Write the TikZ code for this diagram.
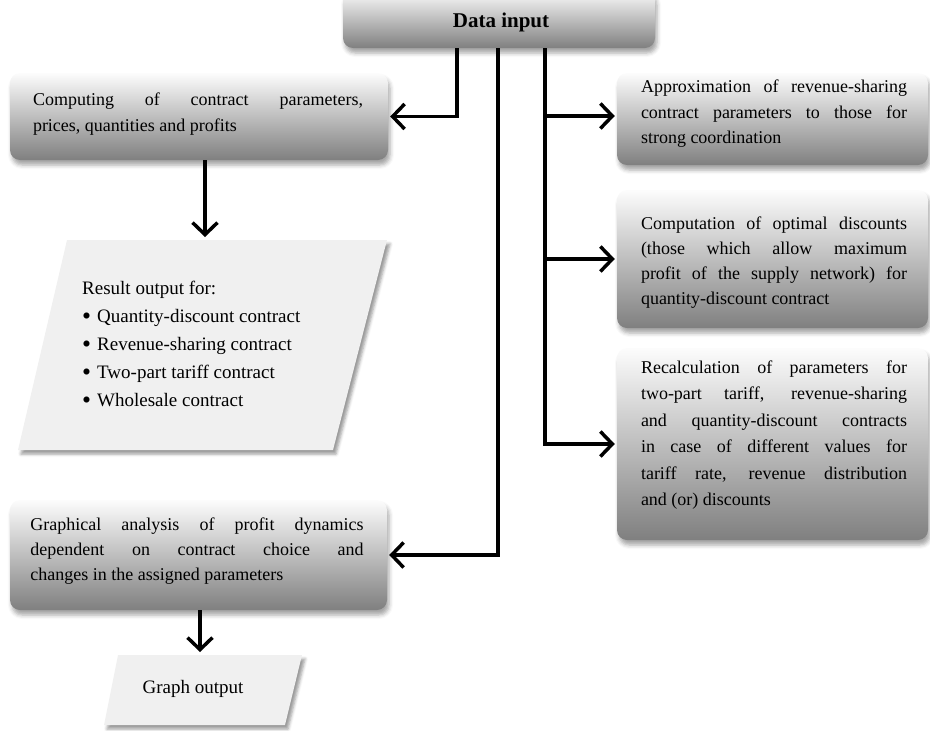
\documentclass[tikz,border=0pt]{standalone}
\usepackage{fontspec}
\setmainfont{Liberation Serif}
\usetikzlibrary{arrows.meta,shadows.blur,calc}
\newcommand{\bul}{\raisebox{-2pt}{\scalebox{1.35}{\textbullet}}\hspace{6pt}}
\begin{document}
\begin{tikzpicture}[x=1pt,y=-1pt,
  box/.style={rectangle, rounded corners=10pt, top color=black!1, middle color=black!15, bottom color=black!50,
    blur shadow={shadow xshift=2pt,shadow yshift=-5pt,shadow blur radius=4pt,shadow opacity=35},
    inner sep=0pt},
  txt/.style={inner sep=0pt, align=justify},
  para/.style={fill=black!6, blur shadow={shadow xshift=3pt,shadow yshift=-4pt,shadow blur radius=3pt,shadow opacity=40}},
  ptext/.style={inner sep=0pt, font=\fontsize{19}{28}\selectfont, align=left},
  arr/.style={line width=3.5pt, shorten >=2pt, -{Straight Barb[length=12pt,width=25pt]}},
]
\useasboundingbox (0,0) rectangle (930,731);

% boxes
\node[box, minimum width=312pt, minimum height=58pt] (data) at (499,19) {};
\node[txt, font=\bfseries\fontsize{21}{25}\selectfont, align=center] (tdata) at (501,22) {Data input};

\node[box, minimum width=378pt, minimum height=87pt] (box1) at (199,116.5) {};
\node[txt, text width=330pt, font=\fontsize{18}{26}\selectfont] (t1) at (198,114)
  {Computing of contract parameters,\linebreak prices, quantities and profits};

\node[box, minimum width=377pt, minimum height=110pt] (box4) at (198.5,555) {};
\node[txt, text width=333pt, font=\fontsize{18}{25}\selectfont] (t4) at (197,551)
  {Graphical analysis of profit dynamics\linebreak dependent on contract choice and\linebreak changes in the assigned parameters};

\node[box, minimum width=311pt, minimum height=92pt] (r1) at (772.5,119) {};
\node[txt, text width=266pt, font=\fontsize{18}{25.5}\selectfont] (tr1) at (774,114)
  {Approximation of revenue-sharing\linebreak contract parameters to those for\linebreak strong coordination};

\node[box, minimum width=311pt, minimum height=138pt] (r2) at (772.5,259) {};
\node[txt, text width=266pt, font=\fontsize{18}{25}\selectfont] (tr2) at (774,263)
  {Computation of optimal discounts\linebreak (those which allow maximum\linebreak profit of the supply network) for\linebreak quantity-discount contract};

\node[box, minimum width=311pt, minimum height=192pt] (r3) at (772.5,444) {};
\node[txt, text width=266pt, font=\fontsize{18}{26.4}\selectfont] (tr3) at (774,435)
  {Recalculation of parameters for\linebreak two-part tariff, revenue-sharing\linebreak and quantity-discount contracts\linebreak in case of different values for\linebreak tariff rate, revenue distribution\linebreak and (or) discounts};

% parallelograms
\path[para] (67,240) -- (387,240) -- (333,450) -- (18,450) -- cycle;
\node[ptext, anchor=west] (p1) at (82,345)
  {Result output for:\\
   \bul Quantity-discount contract\\
   \bul Revenue-sharing contract\\
   \bul Two-part tariff contract\\
   \bul Wholesale contract};
\coordinate (p1top) at (205,239);

\path[para] (118,655) -- (302,655) -- (285,725) -- (104,725) -- cycle;
\node[ptext] (gout) at (193,689) {Graph output};
\coordinate (gtop) at (200,654);

% connectors
\draw[arr] ([xshift=-42pt]data.south) |- (box1.east);
\draw[arr] ([xshift=-1pt]data.south) |- (box4.east);
\draw[arr] ([xshift=46pt]data.south) |- ([yshift=3pt]r1.west);
\draw[arr] ([xshift=46pt]data.south) |- (r2.west);
\draw[arr] ([xshift=46pt]data.south) |- (r3.west);
\draw[arr] (box1.south -| p1top) -- (p1top);
\draw[arr] (box4.south -| gtop) -- (gtop);
\end{tikzpicture}
\end{document}
